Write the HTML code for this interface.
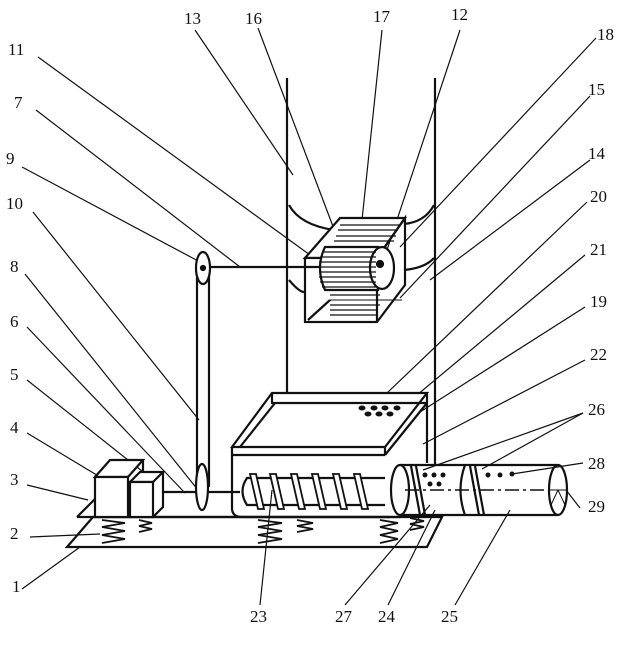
<!DOCTYPE html>
<html><head><style>
html,body{margin:0;padding:0;background:#fff;}
svg{display:block;}
text{font-family:"Liberation Serif",serif;font-size:17px;fill:#111;}
</style></head><body>
<svg width="620" height="656" viewBox="0 0 620 656" xmlns="http://www.w3.org/2000/svg">
<g stroke="#111" fill="none" stroke-width="1.2">
<!-- leaders left -->
<line x1="38" y1="57" x2="310" y2="255"/>
<line x1="36" y1="110" x2="240" y2="267"/>
<line x1="22" y1="167" x2="200" y2="262"/>
<line x1="33" y1="212" x2="199" y2="420"/>
<line x1="25" y1="274" x2="198" y2="490"/>
<line x1="27" y1="327" x2="185" y2="493"/>
<line x1="27" y1="380" x2="147" y2="475"/>
<line x1="27" y1="433" x2="100" y2="477"/>
<line x1="27" y1="485" x2="88" y2="500"/>
<line x1="30" y1="537" x2="100" y2="534"/>
<line x1="22" y1="589" x2="80" y2="547"/>
<!-- top -->
<line x1="195" y1="30" x2="293" y2="175"/>
<line x1="258" y1="28" x2="340" y2="245"/>
<line x1="382" y1="30" x2="358" y2="258"/>
<line x1="460" y1="30" x2="383" y2="262"/>
<!-- right -->
<line x1="596" y1="38" x2="400" y2="247"/>
<line x1="590" y1="96" x2="400" y2="298"/>
<line x1="590" y1="160" x2="430" y2="280"/>
<line x1="587" y1="202" x2="387" y2="393"/>
<line x1="585" y1="255" x2="405" y2="405"/>
<line x1="585" y1="307" x2="420" y2="412"/>
<line x1="585" y1="360" x2="423" y2="444"/>
<line x1="583" y1="413" x2="423" y2="470"/>
<line x1="583" y1="413" x2="482" y2="469"/>
<line x1="583" y1="463" x2="512" y2="474"/>
<line x1="580" y1="508" x2="566" y2="490"/>
<!-- bottom -->
<line x1="260" y1="605" x2="272" y2="490"/>
<line x1="345" y1="605" x2="430" y2="505"/>
<line x1="388" y1="605" x2="435" y2="510"/>
<line x1="455" y1="605" x2="510" y2="510"/>
</g>
<g stroke="#111" fill="none" stroke-width="2.2">
<line x1="287" y1="78" x2="287" y2="393"/>
<line x1="435" y1="78" x2="435" y2="465"/>
<path d="M289 205 Q300 225 334 230"/>
<path d="M404 224 Q425 222 434 205"/>
<path d="M289 280 Q300 293 305 292"/>
<path d="M404 270 Q425 268 434 258"/>
<path d="M305 258 L340 218 L405 218 L377 258 Z" fill="#fff"/>
<rect x="305" y="258" width="72" height="64" fill="#fff"/>
<path d="M377 258 L405 218 L405 285 L377 322"/>
<line x1="308" y1="320" x2="330" y2="300"/>
<line x1="330" y1="300" x2="402" y2="300" stroke-width="1"/>
<path d="M325 247 L378 247 L378 290 L325 290 Q315 268 325 247 Z" fill="#fff"/>
<ellipse cx="382" cy="268" rx="12" ry="21" fill="#fff"/>
<circle cx="380" cy="264" r="3" fill="#111"/>
</g>
<g stroke="#111" stroke-width="1.3">
<line x1="322" y1="252" x2="376" y2="252"/><line x1="320" y1="257" x2="376" y2="257"/>
<line x1="319" y1="262" x2="376" y2="262"/><line x1="319" y1="267" x2="376" y2="267"/>
<line x1="319" y1="272" x2="376" y2="272"/><line x1="319" y1="277" x2="376" y2="277"/>
<line x1="320" y1="282" x2="376" y2="282"/><line x1="322" y1="287" x2="376" y2="287"/>
<line x1="340" y1="225" x2="400" y2="225"/><line x1="338" y1="230" x2="398" y2="230"/>
<line x1="336" y1="236" x2="396" y2="236"/><line x1="334" y1="241" x2="394" y2="241"/>
<line x1="330" y1="295" x2="380" y2="295"/><line x1="330" y1="305" x2="380" y2="305"/>
<line x1="330" y1="310" x2="378" y2="310"/><line x1="330" y1="315" x2="376" y2="315"/>
</g>
<g stroke="#111" fill="none" stroke-width="2.2">
<line x1="205" y1="267" x2="320" y2="267"/>
<line x1="197" y1="268" x2="197" y2="487"/>
<line x1="209" y1="268" x2="209" y2="487"/>
<ellipse cx="203" cy="268" rx="7" ry="16" fill="#fff"/>
<circle cx="203" cy="268" r="2" fill="#111"/>
<path d="M93 517 L442 517 L427 547 L67 547 Z"/>
<path d="M77 517 L100 494"/>
<line x1="77" y1="517" x2="400" y2="517"/>
<path d="M95 477 L110 460 L143 460 L128 477 Z" fill="#fff"/>
<rect x="95" y="477" width="33" height="40" fill="#fff"/>
<path d="M143 460 L143 500 L128 517"/>
<path d="M130 482 L140 472 L163 472 L153 482 Z" fill="#fff"/>
<rect x="130" y="482" width="23" height="35" fill="#fff"/>
<path d="M163 472 L163 507 L153 517"/>
<line x1="163" y1="492" x2="240" y2="492"/>
<ellipse cx="202" cy="487" rx="6" ry="23" fill="#fff"/>
<path d="M232 447 L272 393 L427 393 L385 447 Z" fill="#fff"/>
<path d="M272 393 L272 403 L427 403"/>
<line x1="240" y1="447" x2="275" y2="403"/>
<line x1="385" y1="455" x2="427" y2="403"/>
<line x1="427" y1="393" x2="427" y2="463"/>
<path d="M232 447 L232 508 Q232 517 242 517 L390 517"/>
<line x1="232" y1="455" x2="385" y2="455"/>
<line x1="385" y1="447" x2="385" y2="455"/>
<path d="M385 478 L247 478 Q238 491 247 505 L385 505"/>
</g>
<g stroke="#111" fill="#fff" stroke-width="1.8">
<path d="M250 474 L256 474 L264 509 L258 509 Z"/>
<path d="M270 474 L276 474 L284 509 L278 509 Z"/>
<path d="M291 474 L297 474 L305 509 L299 509 Z"/>
<path d="M312 474 L318 474 L326 509 L320 509 Z"/>
<path d="M333 474 L339 474 L347 509 L341 509 Z"/>
<path d="M354 474 L360 474 L368 509 L362 509 Z"/>
</g>
<g fill="#111">
<ellipse cx="362" cy="408" rx="3.5" ry="2.5"/><ellipse cx="374" cy="408" rx="3.5" ry="2.5"/>
<ellipse cx="385" cy="408" rx="3.5" ry="2.5"/><ellipse cx="397" cy="408" rx="3.5" ry="2.5"/>
<ellipse cx="368" cy="414" rx="3.5" ry="2.5"/><ellipse cx="379" cy="414" rx="3.5" ry="2.5"/>
<ellipse cx="390" cy="414" rx="3.5" ry="2.5"/>
<circle cx="425" cy="475" r="2.5"/><circle cx="434" cy="475" r="2.5"/><circle cx="443" cy="475" r="2.5"/>
<circle cx="430" cy="484" r="2.5"/><circle cx="439" cy="484" r="2.5"/>
<circle cx="488" cy="475" r="2.5"/><circle cx="500" cy="475" r="2.5"/><circle cx="512" cy="474" r="2.5"/>
</g>
<g stroke="#111" fill="none" stroke-width="2.2">
<line x1="400" y1="465" x2="558" y2="465"/>
<line x1="400" y1="515" x2="558" y2="515"/>
<ellipse cx="400" cy="490" rx="9" ry="25" fill="#fff"/>
<path d="M465 465 Q456 490 465 515"/>
<ellipse cx="558" cy="490" rx="9" ry="25"/>
<path d="M411 466 L420 515 M416 466 L425 515"/>
<path d="M470 466 L479 515 M475 466 L484 515"/>
<line x1="549" y1="490" x2="567" y2="490" stroke-width="1"/>
<line x1="558" y1="490" x2="551" y2="505" stroke-width="1"/>
<line x1="558" y1="490" x2="565" y2="505" stroke-width="1"/>
</g>
<line x1="405" y1="490" x2="548" y2="490" stroke="#111" stroke-width="1.5" stroke-dasharray="14,4,3,4"/>
<g stroke="#111" fill="none" stroke-width="1.8">
<path d="M102 520 L125 523 L102 527 L125 531 L102 535 L125 539 L102 543"/>
<path d="M139 520 L152 523 L139 526 L152 529 L139 532"/>
<path d="M258 520 L282 523 L258 527 L282 531 L258 535 L282 539 L258 543"/>
<path d="M297 520 L313 523 L297 526 L313 529 L297 532"/>
<path d="M380 520 L398 523 L380 527 L398 531 L380 535 L398 539 L380 543"/>
<path d="M410 518 L424 521 L410 524 L424 527 L410 530"/>
</g>
<text x="184" y="24">13</text><text x="245" y="24">16</text><text x="373" y="22">17</text>
<text x="451" y="20">12</text>
<text x="597" y="40">18</text><text x="588" y="95">15</text><text x="588" y="159">14</text>
<text x="590" y="202">20</text><text x="590" y="255">21</text><text x="590" y="307">19</text>
<text x="590" y="360">22</text><text x="588" y="415">26</text><text x="588" y="469">28</text>
<text x="588" y="512">29</text>
<text x="8" y="55">11</text><text x="14" y="108">7</text><text x="6" y="164">9</text>
<text x="6" y="209">10</text><text x="10" y="272">8</text><text x="10" y="327">6</text>
<text x="10" y="380">5</text><text x="10" y="433">4</text><text x="10" y="485">3</text>
<text x="10" y="539">2</text><text x="12" y="592">1</text>
<text x="250" y="622">23</text><text x="335" y="622">27</text><text x="378" y="622">24</text><text x="441" y="622">25</text>
</svg>
</body></html>
